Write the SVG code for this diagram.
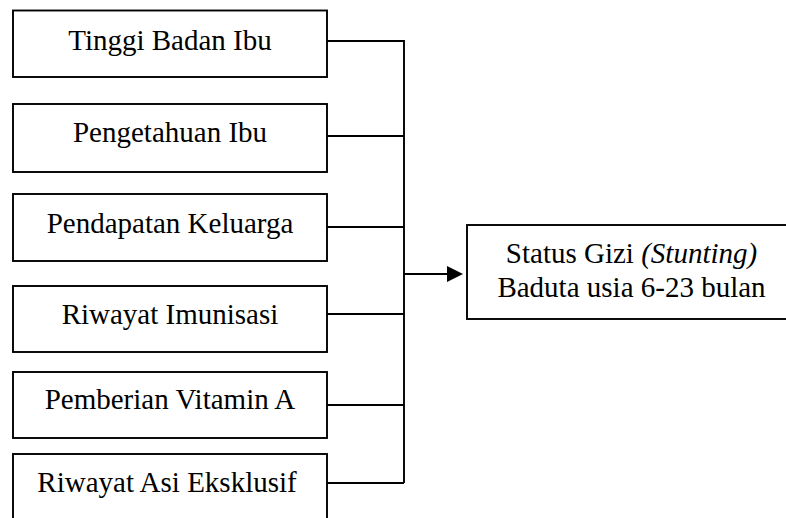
<svg xmlns="http://www.w3.org/2000/svg" width="786" height="518" viewBox="0 0 786 518">
<style>
.box{fill:#fff;stroke:#000;stroke-width:1.9}
.t{font-family:"Liberation Serif","Times New Roman",serif;font-size:29px;fill:#000;text-anchor:middle}
.c{fill:none;stroke:#000;stroke-width:1.9}
</style>
<rect width="786" height="518" fill="#fff"/>
<g id="n1"><rect class="box" x="13" y="10.5" width="314" height="66.5"/><text class="t" x="170" y="50">Tinggi Badan Ibu</text></g>
<g id="n2"><rect class="box" x="13" y="104" width="314" height="68"/><text class="t" x="170" y="142">Pengetahuan Ibu</text></g>
<g id="n3"><rect class="box" x="13" y="194" width="314" height="67"/><text class="t" x="170" y="233">Pendapatan Keluarga</text></g>
<g id="n4"><rect class="box" x="13" y="286" width="314" height="66"/><text class="t" x="170" y="324">Riwayat Imunisasi</text></g>
<g id="n5"><rect class="box" x="13" y="372" width="314" height="66"/><text class="t" x="170" y="409">Pemberian Vitamin A</text></g>
<g id="n6"><rect class="box" x="13" y="454" width="314" height="80"/><text class="t" x="167" y="492">Riwayat Asi Eksklusif</text></g>
<g id="n7"><rect class="box" x="467" y="225" width="330" height="94"/><text class="t" x="631.5" y="263">Status Gizi <tspan font-style="italic">(Stunting)</tspan></text><text class="t" x="631.5" y="297">Baduta usia 6-23 bulan</text></g>
<g id="connectors">
<path class="c" d="M327 41H404V483M327 136H404M327 227H404M327 314H404M327 405H404M327 483H404"/>
<path class="c" d="M404 274H450"/>
<polygon points="447,266 463,274 447,282" fill="#000"/>
</g>
</svg>
